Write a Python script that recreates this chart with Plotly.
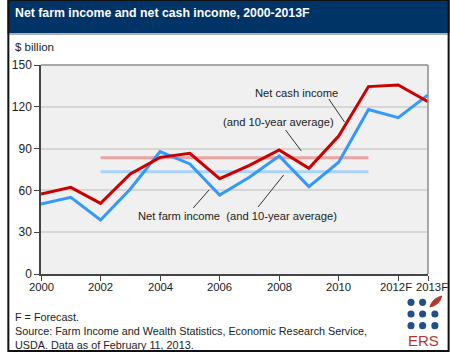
import plotly.graph_objects as go

years = list(range(2000, 2014))
net_cash_income = [57.4, 62.2, 50.7, 71.8, 83.7, 86.6, 68.4, 78.0, 89.0, 75.9, 99.0, 134.5, 135.7, 123.7]
net_farm_income = [50.3, 55.0, 38.8, 61.0, 87.8, 79.0, 56.7, 69.4, 84.7, 62.7, 80.2, 118.0, 112.2, 128.5]
avg_years = [2002, 2011]
cash_avg = 83.5
farm_avg = 73.4
tick_vals = [2000, 2002, 2004, 2006, 2008, 2010, 2012, 2013]
tick_text = ["2000", "2002", "2004", "2006", "2008", "2010", "2012F", "2013F"]

W, H = 450, 352
L, R, T, B = 34, 428, 65, 274
PW, PH = R - L, B - T

def px(x):
    return (x - L) / PW

def py(y):
    return (B - y) / PH

FONT = "Liberation Sans, Arial, sans-serif"
NAVY = "#003366"
RED = "#cc0000"
BLUE = "#3399ff"

fig = go.Figure()
fig.add_trace(go.Scatter(x=avg_years, y=[cash_avg] * 2, mode="lines",
                         line=dict(color="#eca3a3", width=3), hoverinfo="skip"))
fig.add_trace(go.Scatter(x=avg_years, y=[farm_avg] * 2, mode="lines",
                         line=dict(color="#a9d3fa", width=3), hoverinfo="skip"))
fig.add_trace(go.Scatter(x=years, y=net_farm_income, mode="lines",
                         line=dict(color=BLUE, width=3)))
fig.add_trace(go.Scatter(x=years, y=net_cash_income, mode="lines",
                         line=dict(color=RED, width=3)))

shapes = []
shapes.append(dict(type="rect", xref="paper", yref="paper", x0=px(0), x1=px(450),
                   y0=py(35), y1=py(32), fillcolor="#b0b0b0", line_width=0, layer="below"))
shapes.append(dict(type="rect", xref="paper", yref="paper", x0=px(0), x1=px(450),
                   y0=py(33), y1=py(0), fillcolor=NAVY, line_width=0, layer="above"))
shapes.append(dict(type="rect", xref="paper", yref="paper", x0=px(0.75), x1=px(449),
                   y0=py(351), y1=py(0), line=dict(color="#111111", width=2), layer="above"))
shapes.append(dict(type="line", xref="paper", yref="paper", x0=0, x1=1, y0=1, y1=1,
                   line=dict(color="#8c8c8c", width=1.5)))
shapes.append(dict(type="line", xref="paper", yref="paper", x0=1, x1=1, y0=0, y1=1,
                   line=dict(color="#8c8c8c", width=1.5)))

def leader(x0, y0, x1, y1):
    shapes.append(dict(type="line", xref="paper", yref="paper", x0=px(x0), y0=py(y0),
                       x1=px(x1), y1=py(y1), line=dict(color="#333333", width=1)))

leader(327, 99, 343, 122)
leader(283, 130, 299, 151)
leader(189, 208, 205, 190)
leader(255, 207, 281, 175)

dot_col = "#1f4e8c"
dot_rows = [302.3, 314, 325.7]
dot_cols = [410.7, 422.5, 435]
for ri, yy in enumerate(dot_rows):
    for ci, xx in enumerate(dot_cols):
        if ri == 0 and ci == 2:
            continue
        r = 3.6
        shapes.append(dict(type="circle", xref="paper", yref="paper",
                           x0=px(xx - r), x1=px(xx + r), y0=py(yy + r), y1=py(yy - r),
                           fillcolor=dot_col, line_width=0))
shapes.append(dict(type="path", xref="paper", yref="paper",
                   path="M {} {} Q {} {} {} {} Q {} {} {} {} Z".format(
                       px(430), py(307), px(432), py(298.5), px(442), py(296),
                       px(440), py(305), px(430), py(307)),
                   fillcolor="#b5372b", line=dict(color="#b5372b", width=1)))

annotations = [
    dict(text="<b>Net farm income and net cash income, 2000-2013F</b>", x=px(6), y=py(13),
         xanchor="left", yanchor="middle", font=dict(size=12.3, color="white", family=FONT)),
    dict(text="$ billion", x=px(5), y=py(47), xanchor="left", yanchor="middle",
         font=dict(size=11.5, color="#222222", family=FONT)),
    dict(text="Net cash income", x=px(294), y=py(93), xanchor="center", yanchor="middle",
         font=dict(size=11.2, color="#222222", family=FONT)),
    dict(text="(and 10-year average)", x=px(276), y=py(122), xanchor="center", yanchor="middle",
         font=dict(size=11.2, color="#222222", family=FONT)),
    dict(text="Net farm income  (and 10-year average)", x=px(234.5), y=py(216), xanchor="center",
         yanchor="middle", font=dict(size=11.2, color="#222222", family=FONT)),
    dict(text="F = Forecast.<br>Source: Farm Income and Wealth Statistics, Economic Research Service,"
              "<br>USDA. Data as of February 11, 2013.",
         x=px(5), y=py(330.5), xanchor="left", yanchor="middle", align="left",
         font=dict(size=10.8, color="#222222", family=FONT)),
    dict(text="ERS", x=px(423.5), y=py(340), xanchor="center", yanchor="middle",
         font=dict(size=15, color="#b5372b", family=FONT)),
]
for a in annotations:
    a.update(xref="paper", yref="paper", showarrow=False)

for v, t in zip(tick_vals, tick_text):
    shift = 0
    if t == "2012F":
        shift = -2
    elif t == "2013F":
        shift = 4
    annotations.append(dict(text=t, x=v, xref="x", y=py(287), yref="paper",
                            xanchor="center", yanchor="middle", xshift=shift, showarrow=False,
                            font=dict(size=11.3, color="#222222", family=FONT)))

fig.update_layout(
    width=W, height=H,
    margin=dict(l=L, r=W - R, t=T, b=H - B, pad=0),
    paper_bgcolor="white", plot_bgcolor="#f0f0f0",
    showlegend=False,
    shapes=shapes, annotations=annotations,
    font=dict(family=FONT, size=12, color="#222222"),
    xaxis=dict(range=[2000, 2013], tickvals=tick_vals, showticklabels=False,
               showgrid=False, zeroline=False, showline=True, linecolor="#444444", linewidth=1.5,
               ticks="outside", ticklen=5, tickcolor="#444444"),
    yaxis=dict(range=[0, 150], tickvals=[0, 30, 60, 90, 120, 150],
               showgrid=True, gridcolor="#d6d6d6", gridwidth=1.5, zeroline=False,
               showline=True, linecolor="#444444", linewidth=1.5,
               ticks="outside", ticklen=5, tickcolor="#444444",
               tickfont=dict(size=12, family=FONT, color="#222222")),
)

fig.write_html("out.html")
